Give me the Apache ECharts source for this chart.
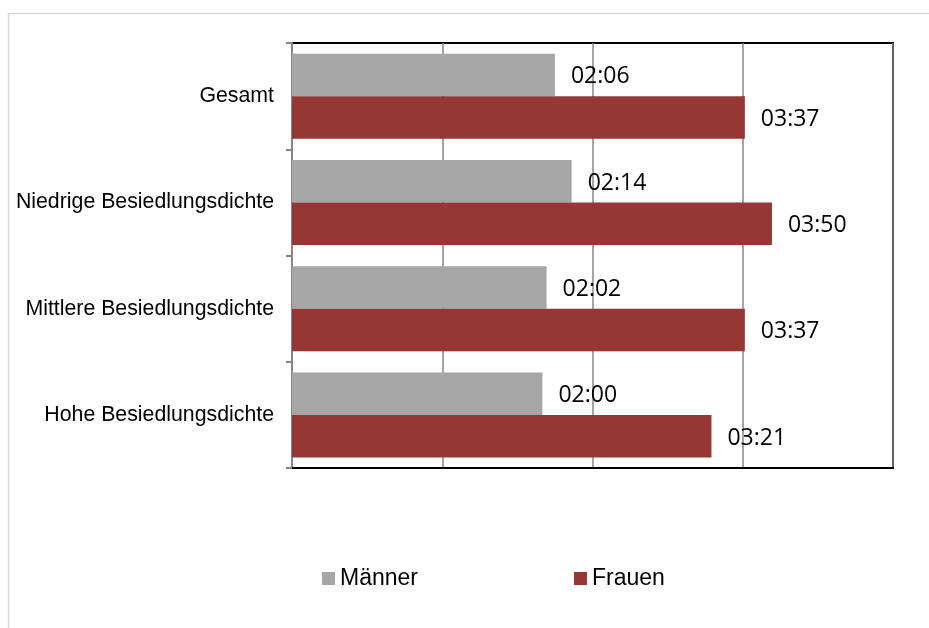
<!DOCTYPE html>
<html>
<head>
<meta charset="utf-8">
<script src="https://cdn.jsdelivr.net/npm/echarts@6/dist/echarts.min.js"></script>
<style>html,body{margin:0;padding:0;background:#fff}#c{width:929px;height:628px}</style>
</head>
<body>
<div id="c"></div>
<script>
// Data (minutes per day)
var categories = ['Gesamt', 'Niedrige Besiedlungsdichte', 'Mittlere Besiedlungsdichte', 'Hohe Besiedlungsdichte'];
var maenner = [126, 134, 122, 120];   // 02:06, 02:14, 02:02, 02:00
var frauen  = [217, 230, 217, 201];   // 03:37, 03:50, 03:37, 03:21
var seriesNames = ['Männer', 'Frauen'];

function hhmm(m) {
  var h = Math.floor(m / 60), mm = m % 60;
  return (h < 10 ? '0' : '') + h + ':' + (mm < 10 ? '0' : '') + mm;
}

var chart = echarts.init(document.getElementById('c'));
var labelStyle = {
  show: true, position: 'right', distance: 16, offset: [0, 2],
  fontFamily: 'Open Sans', fontSize: 23, color: '#000',
  formatter: function (p) { return hhmm(p.value); }
};
chart.setOption({
  animation: false,
  backgroundColor: '#fff',
  graphic: [{
    type: 'rect', left: 6, top: 11, silent: true,
    shape: { width: 940, height: 640 },
    style: { fill: 'none', stroke: '#d9d9d9', lineWidth: 1.5 }
  }],
  grid: {
    left: 292, right: 36, top: 43, bottom: 160,
    show: true, borderColor: '#000', borderWidth: 2, backgroundColor: 'transparent'
  },
  legend: {
    data: seriesNames,
    left: 317, top: 562,
    itemWidth: 13, itemHeight: 13, itemGap: 156,
    icon: 'rect',
    textStyle: { fontFamily: 'Liberation Sans', fontSize: 23, color: '#000' }
  },
  xAxis: {
    type: 'value', min: 0, max: 288, interval: 72,
    axisLabel: { show: false },
    axisTick: { show: false },
    axisLine: { show: true, lineStyle: { color: '#000', width: 2 } },
    splitLine: { show: true, lineStyle: { color: '#868686', width: 1.5 } }
  },
  yAxis: {
    type: 'category', data: categories, inverse: true,
    axisLine: { show: true, lineStyle: { color: '#868686', width: 2 } },
    axisTick: { show: true, length: 6, lineStyle: { color: '#868686', width: 2 } },
    axisLabel: { margin: 18, fontFamily: 'Liberation Sans', fontSize: 21.3, color: '#000' },
    splitLine: { show: false }
  },
  series: [
    { name: seriesNames[0], type: 'bar', data: maenner, barGap: '0%', barCategoryGap: '20%',
      itemStyle: { color: '#a6a6a6' }, label: labelStyle },
    { name: seriesNames[1], type: 'bar', data: frauen, barGap: '0%', barCategoryGap: '20%',
      itemStyle: { color: '#953735' }, label: labelStyle }
  ]
});
</script>
</body>
</html>
